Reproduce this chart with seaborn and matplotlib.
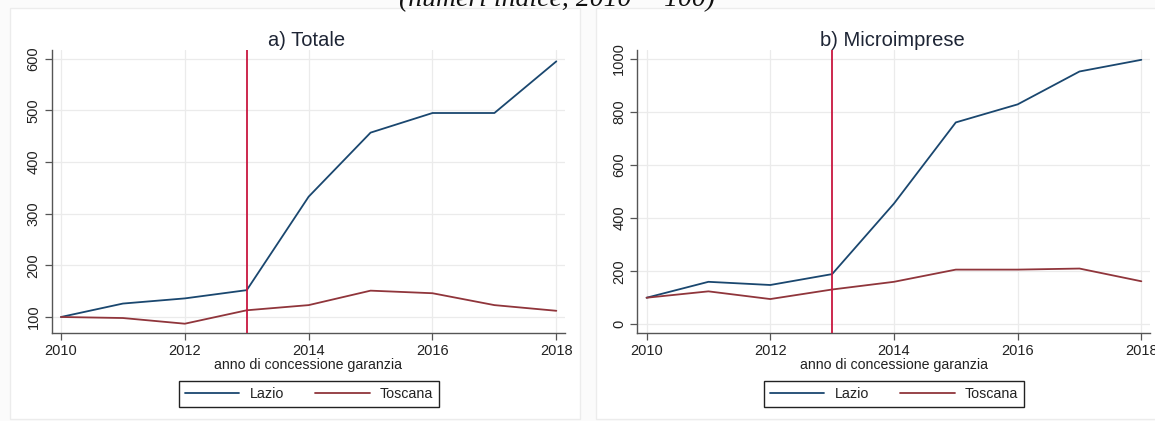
import matplotlib
matplotlib.use("Agg")
import matplotlib.pyplot as plt
import seaborn as sns
import pandas as pd
from matplotlib.patches import Rectangle
from matplotlib.lines import Line2D

years = [2010, 2011, 2012, 2013, 2014, 2015, 2016, 2017, 2018]
tot_lazio = [100, 126, 136, 152, 333, 457, 495, 495, 595]
tot_toscana = [100, 98, 87, 113, 123, 151, 146, 123, 112]
micro_lazio = [100, 160, 148, 189, 455, 761, 829, 953, 997]
micro_toscana = [100, 124, 95, 131, 160, 206, 206, 210, 162]
regions = ["Lazio", "Toscana"]
titles = ["a) Totale", "b) Microimprese"]
xlabel = "anno di concessione garanzia"
supertitle = "(numeri indice, 2010 = 100)"
policy_year = 2013

sns.set_theme(style="white")
plt.rcParams["font.family"] = ["Liberation Sans", "DejaVu Sans"]

colors = {"Lazio": "#1a476f", "Toscana": "#90353b"}
vcolor = "#c8173f"
txt = "#222222"

def long_df(lz, ts):
    return pd.DataFrame({
        "anno": years * 2,
        "valore": lz + ts,
        "regione": ["Lazio"] * len(years) + ["Toscana"] * len(years),
    })

fig = plt.figure(figsize=(11.55, 4.21), dpi=100)
W, H = 1155, 421

# panel frames
for (x0, x1) in [(10, 580), (596, 1160)]:
    fig.add_artist(Rectangle((x0 / W, 0.005), (x1 - x0) / W, 1 - 10 / H,
                             transform=fig.transFigure, facecolor="white",
                             edgecolor="#ececec", lw=1, zorder=0))

axes_px = [(51.7, 565), (637.3, 1150)]
ylims = [(69, 617), (-33, 1034)]
yticks = [[100, 200, 300, 400, 500, 600], [0, 200, 400, 600, 800, 1000]]
data = [(tot_lazio, tot_toscana), (micro_lazio, micro_toscana)]
legend_cx = [309, 894]
title_pos = [(307, "center"), (965, "right")]

for i in range(2):
    x0, x1 = axes_px[i]
    ax = fig.add_axes([x0 / W, (H - 333) / H, (x1 - x0) / W, (333 - 50) / H])
    ax.set_facecolor("white")
    df = long_df(*data[i])
    sns.lineplot(data=df, x="anno", y="valore", hue="regione", palette=colors,
                 ax=ax, lw=1.3, legend=False, zorder=3)
    ax.axvline(policy_year, color=vcolor, lw=1.3, zorder=4)
    ax.set_xlim(2009.85, 2018.14)
    ax.set_ylim(*ylims[i])
    ax.set_xticks([2010, 2012, 2014, 2016, 2018])
    ax.set_yticks(yticks[i])
    ax.grid(True, color="#ebebeb", lw=0.9, zorder=0)
    for s in ["top", "right"]:
        ax.spines[s].set_visible(False)
    for s in ["left", "bottom"]:
        ax.spines[s].set_color("#555555")
        ax.spines[s].set_linewidth(1.0)
    ax.tick_params(axis="both", direction="out", length=5, width=0.9,
                   color="#555555", labelsize=10.5, labelcolor=txt, pad=3,
                   left=True, bottom=True)
    plt.setp(ax.get_yticklabels(), rotation=90, va="center")
    ax.set_xlabel(xlabel, fontsize=10.2, color=txt, labelpad=0)
    ax.set_ylabel("")
    tx, tha = title_pos[i]
    fig.text(tx / W, 1 - 40 / H, titles[i], fontsize=14.5,
             color="#1e2535", ha=tha, va="center")
    handles = [Line2D([], [], color=colors[r], lw=1.3) for r in regions]
    fig.legend(handles, regions, loc="center", ncol=2,
               bbox_to_anchor=(legend_cx[i] / W, (H - 394) / H),
               frameon=True, fancybox=False, edgecolor="#222222",
               fontsize=10.3, handlelength=3.8, columnspacing=2.2,
               handletextpad=0.7, borderpad=0.45, labelcolor=txt,
               framealpha=1)

fig.text(557 / W, 1 - 6 / H, supertitle, fontsize=20, style="italic",
         family=["Liberation Serif", "DejaVu Serif"], ha="center",
         va="baseline", color="#111111")

fig.savefig("out.png", dpi=100, facecolor="#fbfbfb")
